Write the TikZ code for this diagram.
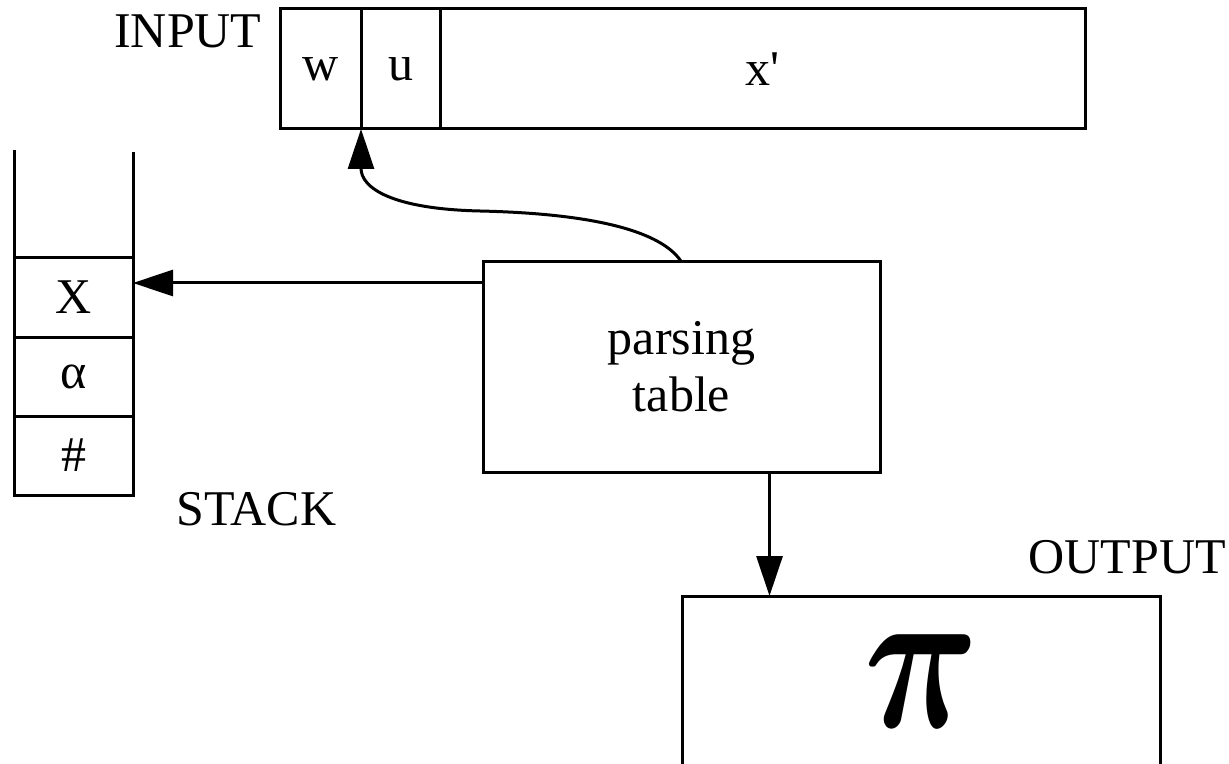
\documentclass[tikz,border=0pt]{standalone}
\usepackage{bm}
\usepackage{fontspec}
\setmainfont{Liberation Serif}
\usetikzlibrary{arrows.meta,positioning}

\begin{document}
\begin{tikzpicture}[x=0.5pt,y=-0.5pt,line width=1.5pt,
  font=\fontsize{25}{28.5}\selectfont,
  cell/.style={draw,outer sep=0pt,inner sep=0pt},
  incell/.style={cell,minimum height=60pt},
  stcell/.style={cell,minimum width=59.5pt,minimum height=39.5pt},
  box/.style={draw,outer sep=0pt,align=center},
  lbl/.style={inner sep=0pt},
  arr/.style={-{Triangle[length=20pt,width=13pt]},line width=1.5pt}]
\useasboundingbox (0,0) rectangle (1229,764);
\clip (0,0) rectangle (1229,764);
% input tape
\node[incell,minimum width=40.5pt] (w) at (320.5,69) {w};
\node[incell,minimum width=39.5pt,right=0pt of w] (u) {u};
\node[incell,minimum width=322.5pt,right=0pt of u] (xr) {x\textquotesingle};
\node[lbl,anchor=base east] (inlbl) at (263,48) {INPUT};
% stack
\node[stcell] (sx) at (73.5,297.5) {X};
\node[stcell,below=0pt of sx] (sa) {α};
\node[stcell,below=0pt of sa] (sh) {\#};
\coordinate (stl) at (14,150);
\coordinate (str) at (133,152);
\draw (stl) -- (sx.north west) (str) -- (sx.north east);
\node[lbl,anchor=base west] (stlbl) at (175,525) {STACK};
% parsing table and output
\node[box,minimum width=198.5pt,minimum height=105pt] (tbl) at (681.5,367) {parsing\\table};
\node[box,minimum width=239pt,minimum height=170pt,anchor=north west] (out) at (682,596) {};
\node[lbl,xscale=3.2,yscale=4.2] (pi) at (922,681.5) {$\bm{\pi}$};
\node[lbl,anchor=base west] (outlbl) at (1027,573) {OUTPUT};
% connectors
\draw[arr] ([yshift=42pt]tbl.west) -- ([yshift=42pt]tbl.west -| sx.east);
\draw[arr] ([xshift=44pt]tbl.south) -- ([xshift=44pt]tbl.south |- out.north);
\draw[arr] (tbl.north) .. controls (665,236) and (610,214) .. (480,211)
  .. controls (392,209) and (361,188) .. (w.south east);
\end{tikzpicture}
\end{document}
